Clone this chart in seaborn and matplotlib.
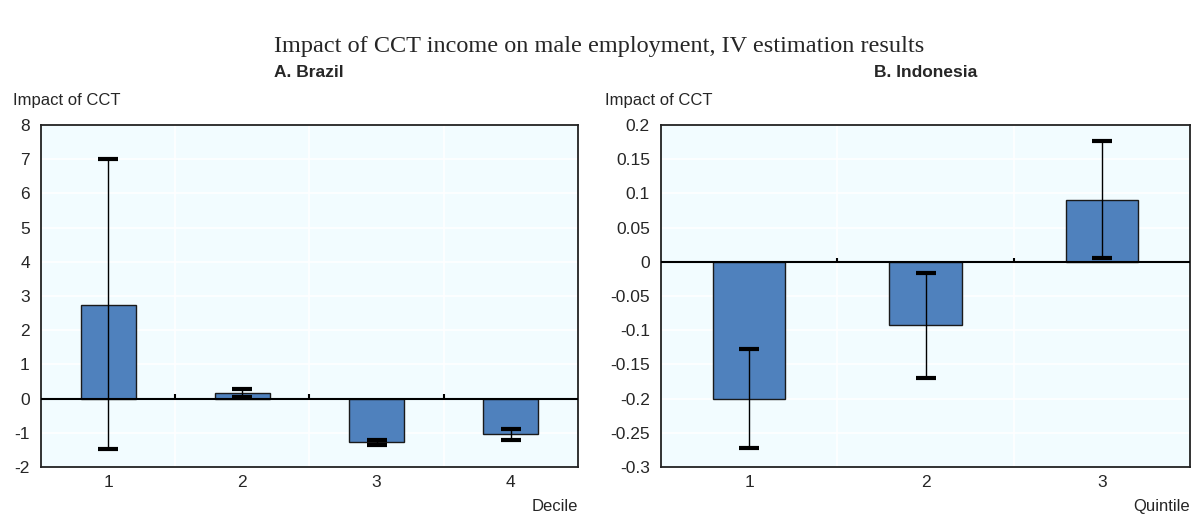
import numpy as np
import pandas as pd
import matplotlib
matplotlib.use("Agg")
import matplotlib.pyplot as plt
import matplotlib.transforms as mtransforms
import seaborn as sns

# ==============================
# DATA
# ==============================
brazil_groups = ["1", "2", "3", "4"]
brazil_impact = [2.75, 0.17, -1.28, -1.05]
brazil_low = [-1.47, 0.05, -1.35, -1.22]
brazil_high = [7.0, 0.28, -1.22, -0.9]
brazil_ticks = [-2, -1, 0, 1, 2, 3, 4, 5, 6, 7, 8]

indo_groups = ["1", "2", "3"]
indo_impact = [-0.2, -0.093, 0.091]
indo_low = [-0.272, -0.17, 0.006]
indo_high = [-0.128, -0.016, 0.177]
indo_ticks = [-0.3, -0.25, -0.2, -0.15, -0.1, -0.05, 0, 0.05, 0.1, 0.15, 0.2]

BAR_COLOR = "#4F81BD"
BG_COLOR = "#F2FCFF"

sns.set_style("white")
plt.rcParams["font.family"] = ["Liberation Sans Narrow", "Liberation Sans", "DejaVu Sans"]

fig = plt.figure(figsize=(11.98, 5.16), dpi=100)
ax_b = fig.add_axes([0.0342, 0.095, 0.4482, 0.6628])
ax_i = fig.add_axes([0.5518, 0.095, 0.4416, 0.6628])


def draw_panel(ax, groups, impact, low, high, ticks, xlabel):
    df = pd.DataFrame({"group": groups, "impact": impact})
    ax.set_facecolor(BG_COLOR)
    sns.barplot(data=df, x="group", y="impact", order=groups, ax=ax,
                color=BAR_COLOR, saturation=1, width=0.41,
                edgecolor="#1a1a1a", linewidth=1.0, zorder=2)
    imp = np.array(impact)
    yerr = [imp - np.array(low), np.array(high) - imp]
    ax.errorbar(np.arange(len(groups)), imp, yerr=yerr, fmt="none",
                ecolor="black", elinewidth=1, capsize=7, capthick=3, zorder=3)

    n = len(groups)
    ax.set_xlim(-0.5, n - 0.5)
    ax.set_ylim(ticks[0], ticks[-1])
    ax.set_yticks(ticks)
    ax.set_yticklabels([f"{t:g}" for t in ticks], fontsize=12.5)
    ax.tick_params(axis="y", direction="in", length=5, width=1, color="#333333", pad=8)
    ax.tick_params(axis="x", length=0, labelsize=12.5, pad=6)
    ax.set_xlabel("")
    ax.set_ylabel("")

    # white grid lines
    for t in ticks[1:-1]:
        ax.axhline(t, color="white", lw=1.2, zorder=1)
    for b in np.arange(0.5, n - 0.5, 1):
        ax.axvline(b, color="white", lw=1.2, zorder=1)

    ax.axhline(0, color="black", lw=1.5, zorder=4)
    # little category boundary ticks on the zero line
    trans = mtransforms.blended_transform_factory(ax.transData, ax.transData)
    tick_h = (ticks[-1] - ticks[0]) * 0.012
    ax.vlines(np.arange(0.5, n - 0.5, 1), 0, tick_h, color="black", lw=1.5,
              transform=trans, zorder=4)

    for side in ["top", "right", "bottom", "left"]:
        ax.spines[side].set_visible(True)
        ax.spines[side].set_color("#222222")
        ax.spines[side].set_linewidth(1.3)

    ax.text(1.0, -0.117, xlabel, transform=ax.transAxes, ha="right", va="center", fontsize=12)


draw_panel(ax_b, brazil_groups, brazil_impact, brazil_low, brazil_high, brazil_ticks, "Decile")
draw_panel(ax_i, indo_groups, indo_impact, indo_low, indo_high, indo_ticks, "Quintile")

fig.text(0.5, 0.91, "Impact of CCT income on male employment, IV estimation results",
         ha="center", va="center", fontsize=17.5, family=["Liberation Serif", "DejaVu Serif"])
fig.text(0.258, 0.86, "A. Brazil", ha="center", va="center", fontsize=12.5,
         fontweight="bold", family=["Liberation Sans", "DejaVu Sans"])
fig.text(0.773, 0.86, "B. Indonesia", ha="center", va="center", fontsize=12.5,
         fontweight="bold", family=["Liberation Sans", "DejaVu Sans"])
fig.text(0.011, 0.806, "Impact of CCT", ha="left", va="center", fontsize=12)
fig.text(0.505, 0.806, "Impact of CCT", ha="left", va="center", fontsize=12)

plt.savefig("out.png", dpi=100, facecolor="white")
